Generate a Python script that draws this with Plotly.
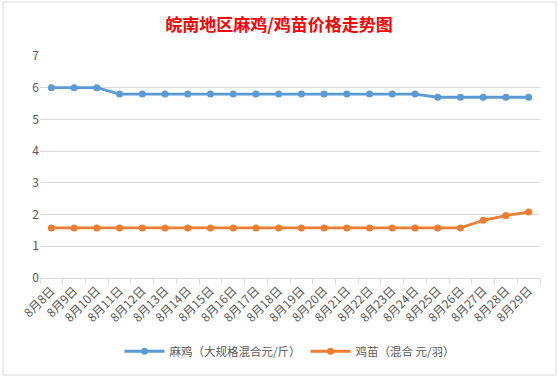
import plotly.graph_objects as go

dates = ["8月8日", "8月9日", "8月10日", "8月11日", "8月12日", "8月13日", "8月14日", "8月15日",
         "8月16日", "8月17日", "8月18日", "8月19日", "8月20日", "8月21日", "8月22日", "8月23日",
         "8月24日", "8月25日", "8月26日", "8月27日", "8月28日", "8月29日"]
maji = [6.0, 6.0, 6.0, 5.8, 5.8, 5.8, 5.8, 5.8, 5.8, 5.8, 5.8, 5.8, 5.8, 5.8, 5.8, 5.8,
        5.8, 5.7, 5.7, 5.7, 5.7, 5.7]
jimiao = [1.58, 1.58, 1.58, 1.58, 1.58, 1.58, 1.58, 1.58, 1.58, 1.58, 1.58, 1.58, 1.58,
          1.58, 1.58, 1.58, 1.58, 1.58, 1.58, 1.82, 1.97, 2.08]
series_names = ["麻鸡（大规格混合元/斤）", "鸡苗（混合 元/羽）"]
title_text = "皖南地区麻鸡/鸡苗价格走势图"

font_family = "Noto Sans CJK SC, Noto Sans, sans-serif"

fig = go.Figure()
fig.add_trace(go.Scatter(x=dates, y=maji, name=series_names[0], mode="lines+markers",
                         line=dict(color="#5B9BD5", width=2.8),
                         marker=dict(color="#5B9BD5", size=7)))
fig.add_trace(go.Scatter(x=dates, y=jimiao, name=series_names[1], mode="lines+markers",
                         line=dict(color="#ED7D31", width=2.8),
                         marker=dict(color="#ED7D31", size=7)))

fig.update_layout(
    width=558, height=378,
    margin=dict(l=40, r=18, t=56, b=100, autoexpand=False),
    paper_bgcolor="white", plot_bgcolor="white",
    font=dict(family=font_family, color="#595959", size=11),
    title=dict(text=title_text, x=0.5, xanchor="center", y=1 - 25 / 378, yanchor="middle",
               font=dict(color="#FF0000", size=17, family=font_family, weight="bold")),
    showlegend=True,
    legend=dict(orientation="h", x=0.5, xanchor="center", y=-0.33, yanchor="middle",
                font=dict(size=11.5, color="#595959"), itemwidth=40, bgcolor="rgba(0,0,0,0)"),
    xaxis=dict(type="category", range=[-0.5, 21.5], showgrid=False,
               showline=True, linecolor="#D9D9D9", linewidth=1,
               ticks="outside", tickson="boundaries", ticklen=5, tickcolor="#D9D9D9",
               tickangle=-45, tickfont=dict(size=12, color="#595959"), fixedrange=True),
    yaxis=dict(range=[0, 7], dtick=1, showgrid=True, gridcolor="#D9D9D9", gridwidth=1,
               zeroline=False, showline=False, ticks="", tickfont=dict(size=12, color="#595959"),
               fixedrange=True),
    shapes=[dict(type="rect", xref="paper", yref="paper",
                 x0=(3 - 40) / 500, x1=(556 - 40) / 500,
                 y0=(278 - 375) / 222, y1=(278 - 2) / 222,
                 line=dict(color="#D9D9D9", width=1), layer="below")],
)

fig.write_html("out.html", config={"displayModeBar": False},
               post_script="document.body.style.margin='0';")
